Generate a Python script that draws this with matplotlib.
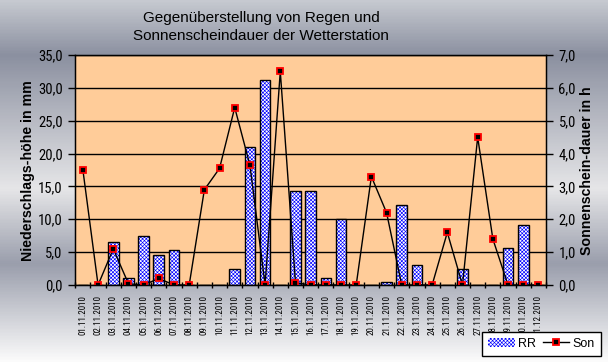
import matplotlib
matplotlib.use("Agg")
import matplotlib.pyplot as plt
import numpy as np
from matplotlib import font_manager
from matplotlib.colors import LinearSegmentedColormap
from matplotlib.patches import Patch
from matplotlib.lines import Line2D
from matplotlib.ticker import FuncFormatter, FixedLocator

# Tage 01.11.2010 - 01.12.2010
dates = ["%02d.11.2010" % d for d in range(1, 31)] + ["01.12.2010"]

# Niederschlag in mm
rr = [0, 0, 6.6, 1.0, 7.4, 4.5, 5.4, 0, 0, 0,
      2.4, 21.0, 31.2, 0, 14.3, 14.3, 1.0, 10.1, 0, 0,
      0.5, 12.2, 3.0, 0, 0, 2.4, 0, 0, 5.6, 9.1, 0]

# Sonnenscheindauer in h
son = [3.5, 0, 1.1, 0.04, 0, 0.2, 0, 0, 2.9, 3.55,
       5.4, 3.65, 0, 6.5, 0.07, 0, 0, 0, 0, 3.3,
       2.2, 0, 0, 0, 1.6, 0, 4.5, 1.4, 0, 0, 0]

# schmale Schrift fuer die Achsenbeschriftung, falls vorhanden
names = set(f.name for f in font_manager.fontManager.ttflist)
narrow = None
for n in ["Liberation Sans Narrow", "DejaVu Sans Condensed", "Roboto Condensed", "Open Sans Condensed"]:
    if n in names:
        narrow = n
        break

plt.rcParams["font.family"] = ["Liberation Sans", "DejaVu Sans"]
plt.rcParams["hatch.linewidth"] = 0.45

if narrow:
    tick_font = dict(family=[narrow, "Liberation Sans"], ysize=10.5, xsize=6.5)
else:
    tick_font = dict(family=["Liberation Sans", "DejaVu Sans"], ysize=9.5, xsize=5.8)

fig = plt.figure(figsize=(6.08, 3.62), dpi=100)

# metallischer Hintergrund (Verlauf)
bg = fig.add_axes([0, 0, 1, 1], zorder=-5)
cmap = LinearSegmentedColormap.from_list("metal", [
    (0.0, "#c6c9d0"), (0.15, "#8b90a0"), (0.52, "#e6e6e8"),
    (0.73, "#9a9eac"), (1.0, "#fbfbfb")])
grad = np.linspace(0, 1, 362).reshape(-1, 1)
bg.imshow(grad, cmap=cmap, aspect="auto", extent=[0, 1, 1, 0])
bg.axis("off")

ax = fig.add_axes([75.3 / 608, 77 / 362, (546 - 75.3) / 608, 230 / 362])
ax.set_facecolor("#ffcc99")
x = np.arange(len(dates))

ax.bar(x, rr, width=0.7, color="white", edgecolor="#0000ff", hatch="xxxxxxxxx", linewidth=0, zorder=2)
ax.bar(x, rr, width=0.7, fill=False, edgecolor="black", linewidth=1, zorder=3)

ax.set_ylim(0, 35)
ax.set_xlim(-0.5, len(dates) - 0.5)
ax.set_yticks(np.arange(0, 36, 5))
ax.yaxis.set_major_formatter(FuncFormatter(lambda v, p: ("%.1f" % v).replace(".", ",")))
ax.grid(axis="y", color="black", linewidth=1)
ax.set_axisbelow(True)

ax.set_xticks(x)
ax.set_xticklabels(dates, rotation=90, fontsize=tick_font["xsize"], family=tick_font["family"])
ax.tick_params(axis="x", length=0, pad=7)
ax.xaxis.set_minor_locator(FixedLocator(np.arange(-0.5, len(dates), 1)))
ax.tick_params(axis="x", which="minor", length=4, direction="inout", width=1)
ax.tick_params(axis="y", length=5, width=1, pad=4)
for lab in ax.get_yticklabels():
    lab.set_family(tick_font["family"])
    lab.set_fontsize(tick_font["ysize"])
for s in ax.spines.values():
    s.set_color("black")
    s.set_linewidth(1)

ax2 = ax.twinx()
ax2.plot(x, son, color="black", linewidth=1, marker="s", markersize=4.2,
         markerfacecolor="black", markeredgecolor="red", markeredgewidth=1.3)
ax2.set_ylim(0, 7)
ax2.set_yticks(np.arange(0, 8, 1))
ax2.yaxis.set_major_formatter(FuncFormatter(lambda v, p: ("%.1f" % v).replace(".", ",")))
ax2.tick_params(axis="y", length=5, width=1, pad=4)
for lab in ax2.get_yticklabels():
    lab.set_family(tick_font["family"])
    lab.set_fontsize(tick_font["ysize"])

fig.text(261 / 608, 1 - 27 / 362, "Gegenüberstellung von Regen und\nSonnenscheindauer der Wetterstation",
         ha="center", va="center", fontsize=11, linespacing=1.45)
fig.text(28 / 608, 1 - 171 / 362, "Niederschlags-höhe in mm", rotation=90,
         ha="center", va="center", fontsize=10.2, fontweight="bold")
fig.text(587 / 608, 1 - 171 / 362, "Sonnenschein-dauer in h", rotation=90,
         ha="center", va="center", fontsize=10.2, fontweight="bold")

handles = [Patch(facecolor="white", edgecolor="#0000ff", hatch="xxxxxxxxx", linewidth=0),
           Line2D([], [], color="black", linewidth=1, marker="s", markersize=4.2,
                  markerfacecolor="black", markeredgecolor="red", markeredgewidth=1.3)]
leg = fig.legend(handles, ["RR", "Son"], loc="lower right", bbox_to_anchor=(601 / 608, 6 / 362),
                 ncol=2, fontsize=9, frameon=True, fancybox=False, framealpha=1,
                 edgecolor="black", handlelength=2.1, handletextpad=0.25,
                 columnspacing=0.6, borderpad=0.5, borderaxespad=0)
leg.get_frame().set_linewidth(1)

fig.savefig("out.png", dpi=100)
